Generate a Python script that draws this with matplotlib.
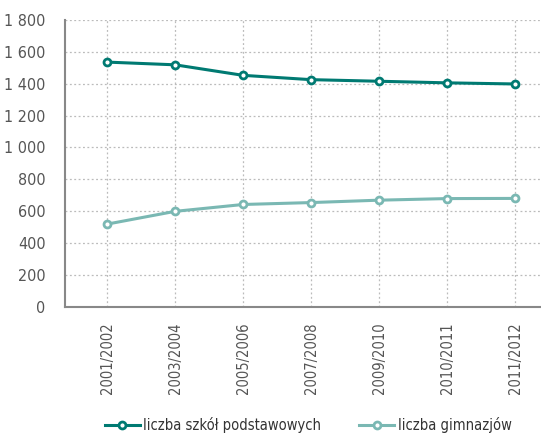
import matplotlib
matplotlib.use("Agg")
import matplotlib.pyplot as plt
from matplotlib.ticker import FuncFormatter

# data
years = ["2001/2002", "2003/2004", "2005/2006", "2007/2008",
         "2009/2010", "2010/2011", "2011/2012"]
szkoly_podstawowe = [1535, 1518, 1452, 1425, 1415, 1405, 1398]
gimnazja = [520, 600, 643, 655, 670, 680, 681]

dark = "#007a72"
light = "#7ab8b3"
text_grey = "#555555"

plt.rcParams['font.family'] = ['DejaVu Sans']
plt.rcParams['font.stretch'] = 'condensed'

fig = plt.figure(figsize=(5.41, 4.40), dpi=100)
ax = fig.add_axes([0.12, 0.302, 0.88, 0.653])

x = range(len(years))
ax.plot(x, szkoly_podstawowe, color=dark, lw=2.2, marker="o", ms=5,
        mfc="white", mec=dark, mew=2, label="liczba szkół podstawowych")
ax.plot(x, gimnazja, color=light, lw=2.2, marker="o", ms=5,
        mfc="white", mec=light, mew=2, label="liczba gimnazjów")

ax.set_ylim(0, 1800)
ax.set_yticks(range(0, 1801, 200))
ax.yaxis.set_major_formatter(FuncFormatter(lambda v, p: f"{int(v):,}".replace(",", " ")))
ax.set_xlim(-0.62, 6.38)
ax.set_xticks(list(x))
ax.set_xticklabels(years, rotation=90)

ax.grid(True, color="#bbbbbb", ls=(0, (1.5, 2)), lw=0.9)
ax.set_axisbelow(True)
for s in ["top", "right"]:
    ax.spines[s].set_visible(False)
for s in ["left", "bottom"]:
    ax.spines[s].set_color("#888888")
    ax.spines[s].set_linewidth(1.5)
ax.tick_params(length=0, colors=text_grey)
ax.tick_params(axis="y", labelsize=11.5, pad=14)
ax.tick_params(axis="x", labelsize=10.5, pad=11)

fig.legend(loc="lower center", bbox_to_anchor=(0.57, -0.015), ncol=2,
           frameon=False, fontsize=10.5, labelcolor="#333333",
           handlelength=2.4, columnspacing=2.6, handletextpad=0.25)

fig.savefig("out.png", dpi=100)
